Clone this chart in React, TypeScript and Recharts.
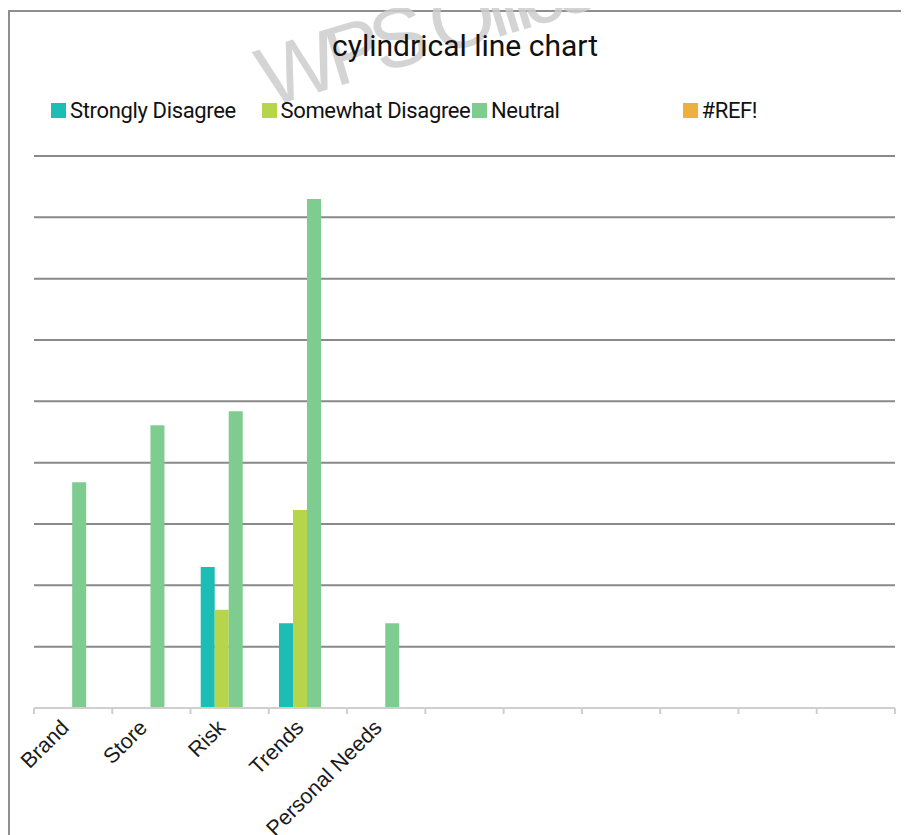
import React from 'react';
import { BarChart, Bar, XAxis, YAxis, CartesianGrid } from 'recharts';

// Survey categories (the trailing slots are unused columns of the sheet)
const categories: string[] = ['Brand', 'Store', 'Risk', 'Trends', 'Personal Needs', '', '', '', '', '', ''];

// Series values per category
const stronglyDisagree: (number | null)[] = [null, null, 2.3, 1.38, null, null, null, null, null, null, null];
const somewhatDisagree: (number | null)[] = [null, null, 1.6, 3.23, null, null, null, null, null, null, null];
const neutral: (number | null)[] = [3.68, 4.61, 4.84, 8.3, 1.38, null, null, null, null, null, null];
const refError: (number | null)[] = [null, null, null, null, null, null, null, null, null, null, null];

const yTicks: number[] = [1, 2, 3, 4, 5, 6, 7, 8, 9];

const seriesNames = ['Strongly Disagree', 'Somewhat Disagree', 'Neutral', '#REF!'];
const seriesKeys = ['strongly', 'somewhat', 'neutral', 'ref'];
const seriesColors = ['#1cbdb5', '#b6d54b', '#7fcc90', '#ecb03f'];

const chartTitle = 'cylindrical line chart';
const watermark = 'WPS Office';

const data = categories.map((name, i) => ({
  id: i,
  name,
  strongly: stronglyDisagree[i],
  somewhat: somewhatDisagree[i],
  neutral: neutral[i],
  ref: refError[i],
}));

const AXIS_COLOR = '#cfcfcf';

function CategoryTick(props: any) {
  const { x, y, payload, index } = props;
  const half = payload && payload.offset ? payload.offset : 0;
  const label = categories[payload.value] ?? '';
  const isLast = index === categories.length - 1;
  const lx = x - 3;
  const ly = y + 21;
  return (
    <g>
      <line x1={x - half} y1={y} x2={x - half} y2={y + 6} stroke={AXIS_COLOR} strokeWidth={2} />
      {isLast && <line x1={x + half} y1={y} x2={x + half} y2={y + 6} stroke={AXIS_COLOR} strokeWidth={2} />}
      {label && (
        <text
          x={lx}
          y={ly}
          textAnchor="end"
          fill="#1a1a1a"
          fontSize={21.5}
          fontFamily="'Liberation Sans', Arial, sans-serif"
          transform={`rotate(-45, ${lx}, ${ly})`}
        >
          {label}
        </text>
      )}
    </g>
  );
}

export default function App() {
  return (
    <div style={{ position: 'relative', width: 901, height: 827, background: '#fff', fontFamily: 'Roboto, sans-serif' }}>
      <div
        style={{
          position: 'absolute',
          left: 0,
          top: 2,
          width: 901,
          height: 825,
          borderLeft: '2px solid #8e8e8e',
          borderTop: '2px solid #8e8e8e',
          boxSizing: 'border-box',
        }}
      />
      <BarChart
        width={901}
        height={827}
        data={data}
        margin={{ top: 148, right: 14, bottom: 27, left: 26 }}
        barCategoryGap="13%"
        barGap={0}
      >
        <CartesianGrid vertical={false} stroke="#8a8a8a" strokeWidth={2} />
        <YAxis hide domain={[0, 9]} ticks={yTicks} />
        <XAxis
          dataKey="id"
          type="category"
          height={100}
          interval={0}
          tickLine={false}
          tickSize={0}
          tickMargin={0}
          stroke={AXIS_COLOR}
          strokeWidth={2}
          tick={<CategoryTick />}
        />
        {seriesKeys.map((k, i) => (
          <Bar key={k} dataKey={k} name={seriesNames[i]} fill={seriesColors[i]} isAnimationActive={false} />
        ))}
      </BarChart>
      <div
        style={{
          position: 'absolute',
          left: 264,
          top: 28,
          fontFamily: "'Liberation Sans', Arial, sans-serif",
          fontSize: 84,
          letterSpacing: -9,
          color: '#cdcdcd',
          opacity: 0.85,
          transform: 'rotate(-17deg)',
          transformOrigin: 'left bottom',
          whiteSpace: 'nowrap',
          pointerEvents: 'none',
          lineHeight: 1,
        }}
      >
        {watermark}
      </div>
      <div
        style={{
          position: 'absolute',
          left: 0,
          width: 914,
          top: 20,
          textAlign: 'center',
          fontSize: 30,
          color: '#111',
          fontFamily: 'Roboto, sans-serif',
        }}
      >
        {chartTitle}
      </div>
      <div style={{ position: 'absolute', left: 43, top: 90, display: 'flex' }}>
        {seriesNames.map((n, i) => (
          <div key={n} style={{ width: 210.5, display: 'flex', alignItems: 'center', fontSize: 22, color: '#111', fontFamily: 'Roboto, sans-serif' }}>
            <span style={{ display: 'inline-block', width: 15, height: 15, background: seriesColors[i], marginRight: 4 }} />
            <span style={{ letterSpacing: -0.35 }}>{n}</span>
          </div>
        ))}
      </div>
    </div>
  );
}
